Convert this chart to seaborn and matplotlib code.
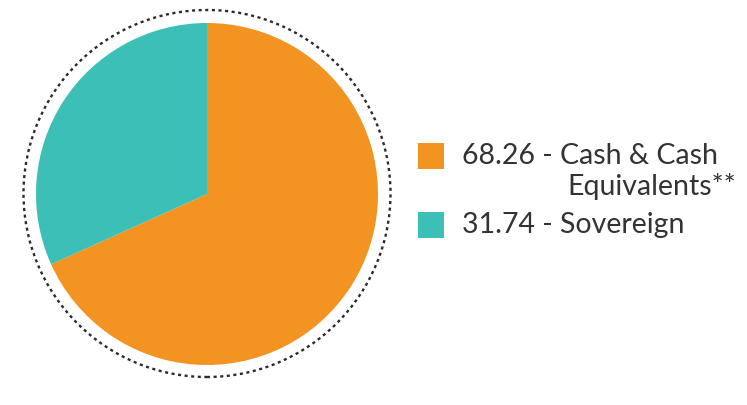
import matplotlib
matplotlib.use("Agg")
import matplotlib.pyplot as plt
from matplotlib.patches import Circle, Rectangle
import seaborn as sns

labels = ["68.26 - Cash & Cash\nEquivalents**", "31.74 - Sovereign"]
values = [68.26, 31.74]
colors = ["#F39322", "#3BBFB7"]

sns.set_theme(style="white")
plt.rcParams['font.family'] = ['Lato', 'DejaVu Sans']

W, H = 747, 405
fig = plt.figure(figsize=(W / 100, H / 100), dpi=100)
ax = fig.add_axes([0, 0, 1, 1])

cx, cy, r = 207, H - 194, 171
ax.pie(values, colors=colors, startangle=90, counterclock=False,
       center=(cx, cy), radius=r, frame=True,
       wedgeprops=dict(linewidth=0))
ax.set_xlim(0, W)
ax.set_ylim(0, H)
ax.set_aspect("equal")
ax.axis("off")

ax.add_patch(Circle((cx, H - 193.5), 183.5, fill=False, edgecolor="#2b2b2b",
                    linewidth=1.7, linestyle=(0, (1.3, 1.5))))

# legend
txt = "#333333"
sq = 26
ax.add_patch(Rectangle((418, H - 169), sq, sq, color=colors[0], linewidth=0))
ax.add_patch(Rectangle((418, H - 238), sq, sq, color=colors[1], linewidth=0))
fs = 20.5
ax.text(462, H - 156, "68.26 - Cash & Cash", fontsize=fs, color=txt, va="center", ha="left")
ax.text(567, H - 186, "Equivalents**", fontsize=fs, color=txt, va="center", ha="left")
ax.text(462, H - 225, "31.74 - Sovereign", fontsize=fs, color=txt, va="center", ha="left")

fig.savefig("out.png", dpi=100)
